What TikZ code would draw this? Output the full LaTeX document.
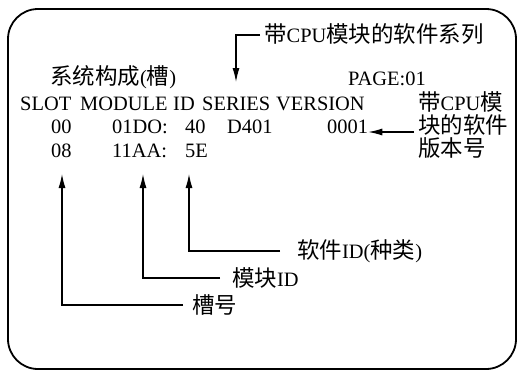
\documentclass[tikz,border=0pt]{standalone}
\usepackage{fontspec}
\setmainfont{Liberation Serif}
\newfontfamily\cjk[Scale=1.1]{Noto Sans CJK SC}
\usetikzlibrary{arrows.meta}
\newcommand{\zh}[1]{{\cjk #1}}
\begin{document}
\begin{tikzpicture}[x=1bp,y=-1bp,
  txt/.style={font=\fontsize{20.5}{24}\selectfont, inner sep=0pt, anchor=base west},
  lbl/.style={font=\fontsize{20.5}{24}\selectfont, inner sep=0pt, anchor=west},
  conn/.style={line width=1.2bp, -{Latex[length=14bp,width=7bp]}},
  frame/.style={line width=1.8bp, rounded corners=30bp}]
\useasboundingbox (0,0) rectangle (519,372);
\draw[frame] (8,9) rectangle (516,369);

% top label
\node[txt] (toplbl) at (264,42) {\zh{带}CPU\zh{模块的软件系列}};
\coordinate (topc) at (260,35);
\coordinate (seriestop) at (236,82);

\node[txt] (title) at (50,84) {\zh{系统构成}(\zh{槽})};
\node[txt] (page) at (348,85) {PAGE:01};

% header
\node[txt] (hslot) at (20,110) {SLOT};
\node[txt] (hmod) at (80,110) {MODULE};
\node[txt] (hid) at (173,110) {ID};
\node[txt] (hser) at (202,110) {SERIES};
\node[txt] (hver) at (276,110) {VERSION};

% row 1
\node[txt] (s00) at (51,133) {00};
\node[txt] (m1) at (112,133) {01DO:};
\node[txt] (i1) at (185,133) {40};
\node[txt] (ser1) at (227,133) {D401};
\node[txt] (ver1) at (327,133) {0001};

% row 2
\node[txt] (s08) at (51,157) {08};
\node[txt] (m2) at (112,157) {11AA:};
\node[txt] (i2) at (185,157) {5E};

% right label
\node[txt] (r1) at (418,110) {\zh{带}CPU\zh{模}};
\node[txt] (r2) at (418,133) {\zh{块的软件}};
\node[txt] (r3) at (418,156) {\zh{版本号}};

% bottom labels
\node[lbl] (lsw) at (297,251) {\zh{软件}ID(\zh{种类})};
\node[lbl] (lmod) at (232,278) {\zh{模块}ID};
\node[lbl] (lslot) at (192,305) {\zh{槽号}};

% connectors
\draw[conn] (topc) -- (236,35) -- (seriestop);
\draw[conn] (r2.west |- 0,132) ++(-4,0) -- (ver1.east |- 0,132);
\draw[conn] (lsw.west) ++(-17,0) -- (189,251) -- (189,174);
\draw[conn] (lmod.west) ++(-12,0) -- (143,278) -- (143,174);
\draw[conn] (lslot.west) ++(-9,0) -- (62,305) -- (62,174);
\end{tikzpicture}
\end{document}
